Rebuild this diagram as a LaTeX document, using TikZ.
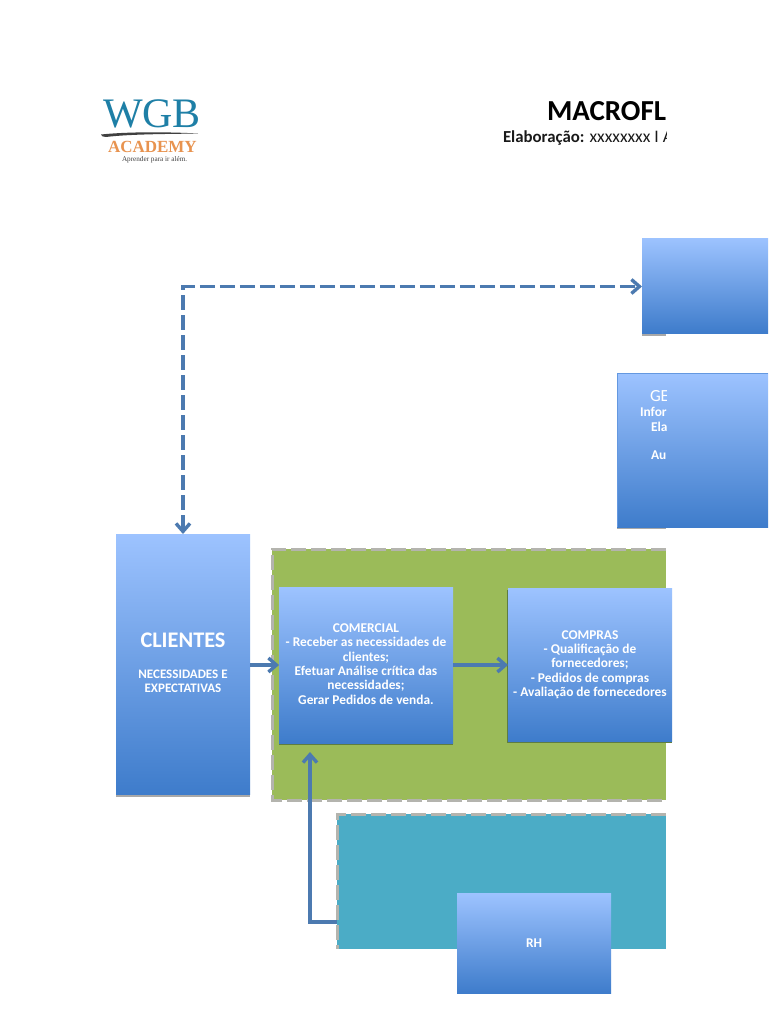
\documentclass[tikz,border=0pt]{standalone}
\usepackage{fontspec}
\setmainfont{Carlito}
\newfontfamily\logofont{Liberation Serif}
\usetikzlibrary{arrows.meta,calc}
\definecolor{boxtop}{HTML}{9DC3FF}
\definecolor{boxbot}{HTML}{3E7CCB}
\definecolor{linkblue}{HTML}{4C7AB0}
\definecolor{greenfill}{HTML}{9BBB59}
\definecolor{tealfill}{HTML}{4BACC6}
\definecolor{dashgrey}{HTML}{B4B4AE}
\definecolor{shadegrey}{HTML}{A8A8A8}
\definecolor{shadegreen}{HTML}{5E7D42}
\definecolor{logoteal}{HTML}{1E7FA6}
\definecolor{logoorange}{HTML}{E8934F}
\tikzset{
  bluebox/.style={rectangle,inner sep=0pt,outer sep=0pt,top color=boxtop,bottom color=boxbot,draw=none,text=white,align=center,font=\fontsize{13.4}{14.35}\selectfont\bfseries},
  boxtext/.style={inner sep=0pt,text=white,align=center,font=\fontsize{13.4}{14.35}\selectfont\bfseries},
  panel/.style={rectangle,inner sep=0pt,outer sep=0pt,draw=none},
  paneledge/.style={draw=dashgrey,line width=3pt,dash pattern=on 15pt off 5pt},
  link/.style={draw=linkblue,line width=3.6pt,-{Straight Barb[length=8pt,width=14pt,line width=3.4pt]}},
  linkdash/.style={draw=linkblue,line width=3.6pt,dash pattern=on 15pt off 5pt,{Straight Barb[length=8pt,width=14pt,line width=3.4pt]}-{Straight Barb[length=8pt,width=14pt,line width=3.4pt]}},
  lbl/.style={inner sep=0pt,outer sep=0pt,anchor=west},
  wlbl/.style={lbl,text=white,font=\fontsize{13.4}{14.35}\selectfont\bfseries},
}
\begin{document}
\begin{tikzpicture}[x=1pt,y=-1pt]
\useasboundingbox (0,0) rectangle (768,1024);
\fill[white] (0,0) rectangle (768,1024);

% logo
\node[lbl,text=logoteal,font=\logofont\fontsize{42}{42}\selectfont] (wgb) at (103,114) {WGB};
\fill[black!75] (101,134.5) .. controls (130,131.5) and (170,132) .. (198,133.5) .. controls (170,134) and (130,134) .. (106,137) .. controls (103,137) and (101,136) .. (101,134.5) -- cycle;
\node[lbl,text=logoorange,font=\logofont\fontsize{17}{18}\selectfont\bfseries] (academy) at (108,147) {ACADEMY};
\node[lbl,text=black!75,font=\logofont\fontsize{7.2}{8}\selectfont] (tag) at (122,160) {Aprender para ir além.};

% header, cut at the right
\begin{scope}
\clip (480,90) rectangle (666,150);
\node[lbl,font=\fontsize{29}{31}\selectfont\bfseries] (title) at (547,111) {MACROFL};
\node[lbl,text=black!90,font=\fontsize{16.8}{18}\selectfont] (elab) at (503,138.5) {\textbf{Elaboração:} {\fontsize{17.6}{18}\selectfont xxxxxxxx I A}};
\end{scope}

% upper right boxes
\fill[shadegrey] (642,333) rectangle (666,335.5);
\node[bluebox,minimum width=126pt,minimum height=95pt] (top) at (705,285.5) {};
\fill[shadegrey] (617,527) rectangle (666,529);
\node[bluebox,minimum width=151pt,minimum height=154pt] (gestao) at (692.5,450) {};
\draw[boxbot!60!boxtop,line width=1pt] (gestao.north west) -- (gestao.north east);
\draw[boxbot!60!boxtop,line width=1pt] (gestao.north west) -- (gestao.south west);
\begin{scope}
\clip (600,380) rectangle (666,470);
\node[lbl,text=white,font=\fontsize{17}{18}\selectfont] (ge) at (650,396) {GE};
\node[wlbl] (infor) at (640,412) {Infor};
\node[wlbl] (ela) at (651,427) {Ela};
\node[wlbl] (au) at (651,455) {Au};
\end{scope}

% clientes
\fill[shadegrey] (116,794) rectangle (250,796.5);
\node[bluebox,minimum width=134pt,minimum height=260pt] (clientes) at (183,664) {};
\node[text=white,inner sep=0pt,font=\fontsize{22.3}{24}\selectfont\bfseries] (clientesT) at (183,640.5) {CLIENTES};
\node[text=white,inner sep=0pt,align=center,font=\fontsize{13}{14.35}\selectfont\bfseries] (clientesS) at (183,681.5) {NECESSIDADES E\\EXPECTATIVAS};

% green panel
\node[panel,fill=greenfill,minimum width=394pt,minimum height=251pt] (green) at (469,674.5) {};
\draw[paneledge] (green.north east) -- (green.north west) -- (green.south west) -- (green.south east);

% teal panel
\node[panel,fill=tealfill,minimum width=329pt,minimum height=135pt] (teal) at (501.5,881.5) {};
\draw[paneledge] (teal.north east) -- (teal.north west) -- (teal.south west);

% comercial, compras
\fill[shadegreen] (279,743) rectangle (453,745);
\node[bluebox,minimum width=174pt,minimum height=156pt] (comercial) at (366,665) {};
\node[boxtext] (comercialT) at (366,664) {COMERCIAL\\- Receber as necessidades de\\clientes;\\Efetuar Análise crítica das\\necessidades;\\Gerar Pedidos de venda.};
\fill[shadegreen] (507,590) rectangle (508,743);
\fill[shadegreen] (507,741) rectangle (672,743);
\node[bluebox,minimum width=164pt,minimum height=153pt] (compras) at (590,664.5) {};
\node[boxtext] (comprasT) at (590,664.5) {COMPRAS\\- Qualificação de\\fornecedores;\\- Pedidos de compras\\- Avaliação de fornecedores};

% RH
\node[bluebox,minimum width=154pt,minimum height=100pt] (rh) at (534,943) {RH};

% connectors
\coordinate (rhfoot) at (310,752);
\draw[linkdash] (clientes.north) |- ([yshift=-1pt]top.west);
\draw[link] (clientes.east |- comercial.west) -- (comercial.west);
\draw[link] (comercial.east) -- (comercial.east -| compras.west);
\draw[link] ([yshift=-40.5pt]teal.west) -| (rhfoot);
\end{tikzpicture}
\end{document}
